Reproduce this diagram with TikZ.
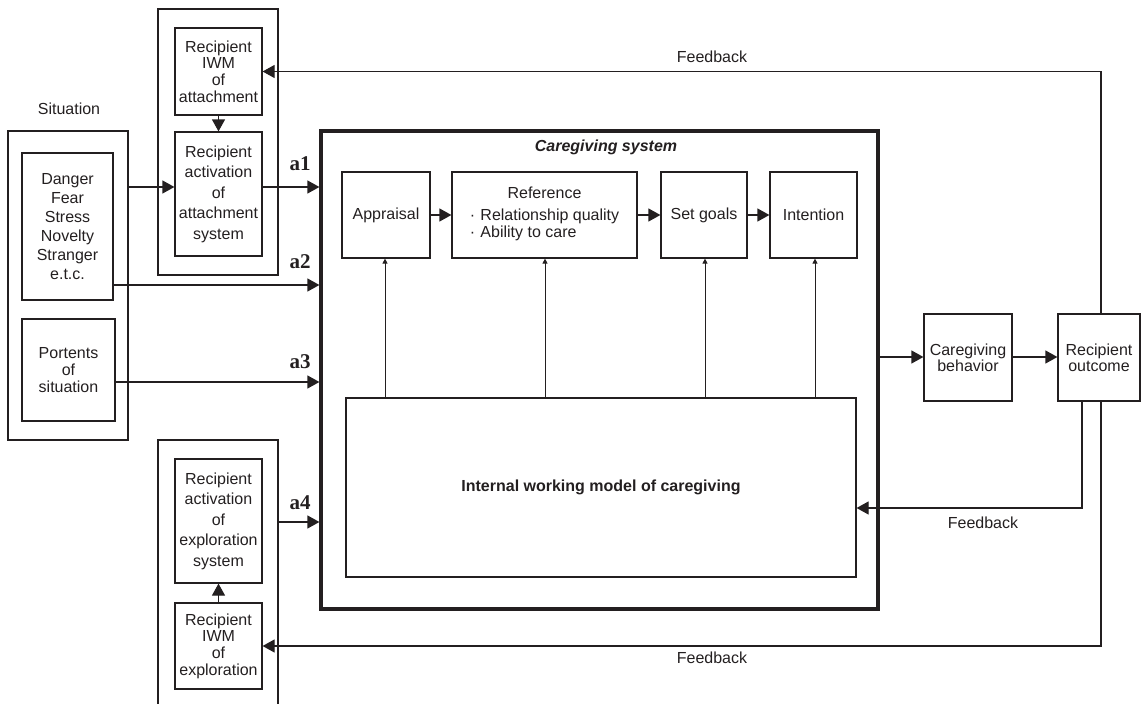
\documentclass[tikz,border=0pt]{standalone}
\usepackage{fontspec}
\setmainfont{Liberation Sans}
\newfontfamily\serifbold{Liberation Serif}
\usetikzlibrary{arrows.meta}
\definecolor{ink}{HTML}{231F20}
\newcommand\myfs[1]{\fontsize{16}{#1}\selectfont}
\begin{document}
\begin{tikzpicture}[x=1pt,y=-1pt,
  every node/.style={text=ink},
  box/.style={draw=ink, line width=1.2pt, inner sep=0pt, align=center},
  outerbox/.style={draw=ink, line width=1.2pt, inner sep=0pt},
  arr/.style={draw=ink, line width=1.2pt, -{Triangle[length=12pt,width=13pt]}},
  thinarr/.style={draw=ink, line width=0.9pt, -{Triangle[length=5pt,width=5pt]}},
  lbl/.style={font=\myfs{18}},
  alabel/.style={font=\serifbold\bfseries\fontsize{21}{21}\selectfont}]
\useasboundingbox (0,0) rectangle (1141,704);

% situation
\node[lbl] (sitlbl) at (69,109) {Situation};
\node[outerbox, minimum width=120pt, minimum height=309pt] (sit) at (68,285.5) {};
\node[box, minimum width=91pt, minimum height=147pt, font=\myfs{19}] (danger) at (67.5,226.5)
  {Danger\\Fear\\Stress\\Novelty\\Stranger\\e.t.c.};
\node[box, minimum width=93pt, minimum height=102pt, font=\myfs{16.7}] (portents) at (68.5,370)
  {Portents\\of\\situation};

% attachment
\node[outerbox, minimum width=120pt, minimum height=266pt] (attouter) at (218,142) {};
\node[box, minimum width=87pt, minimum height=87pt, font=\myfs{16.7}] (attiwm) at (218.5,71.5)
  {Recipient\\IWM\\of\\attachment};
\node[box, minimum width=87pt, minimum height=124pt, font=\myfs{20.5}] (attact) at (218.5,194)
  {Recipient\\activation\\of\\attachment\\system};

% exploration
\node[outerbox, minimum width=120pt, minimum height=272pt] (expouter) at (218,576) {};
\node[box, minimum width=87pt, minimum height=124pt, font=\myfs{20.5}] (expact) at (218.5,521)
  {Recipient\\activation\\of\\exploration\\system};
\node[box, minimum width=87pt, minimum height=86pt, font=\myfs{16.7}] (expiwm) at (218.5,646)
  {Recipient\\IWM\\of\\exploration};

% caregiving system
\node[draw=ink, line width=3.2pt, minimum width=557pt, minimum height=478pt, inner sep=0pt] (care) at (599.5,370) {};
\node[font=\bfseries\itshape\myfs{16}] (caretitle) at (606,147) {Caregiving system};
\node[box, minimum width=88pt, minimum height=86pt, font=\myfs{16}] (appraisal) at (386,215) {Appraisal};
\node[box, minimum width=185pt, minimum height=86pt, font=\myfs{17.5}] (reference) at (544.5,215)
  {Reference\\[8pt]\begin{tabular}{@{}l@{}}·\,\,Relationship quality\\ ·\,\,Ability to care\end{tabular}};
\node[box, minimum width=86pt, minimum height=86pt, font=\myfs{16}] (setgoals) at (704,215) {Set goals};
\node[box, minimum width=87pt, minimum height=86pt, font=\myfs{16}] (intention) at (813.5,215) {Intention};
\node[box, minimum width=510pt, minimum height=179pt, font=\bfseries\myfs{16}] (iwm) at (601,487.5)
  {Internal working model of caregiving};

% right side
\node[box, minimum width=88pt, minimum height=87pt, font=\myfs{15.7}] (behavior) at (968,357.5)
  {Caregiving\\behavior};
\node[box, minimum width=82pt, minimum height=87pt, font=\myfs{15.7}] (outcome) at (1099,357.5)
  {Recipient\\outcome};

% labels
\node[alabel] (a1) at (300,164) {a1};
\node[alabel] (a2) at (300,262) {a2};
\node[alabel] (a3) at (300,362) {a3};
\node[alabel] (a4) at (300,503) {a4};
\node[lbl] (fb1) at (712,57) {Feedback};
\node[lbl] (fb2) at (983,523) {Feedback};
\node[lbl] (fb3) at (712,658) {Feedback};

% helper coordinates
\coordinate (y1) at (0,187);
\coordinate (y2) at (0,285);
\coordinate (y3) at (0,382);
\coordinate (y4) at (0,522);
\coordinate (yb) at (0,357);
\coordinate (ymid) at (0,508);
\coordinate (xr) at (1101,0);
\coordinate (xm) at (1082,0);

% connectors
\draw[arr] (sit.east |- y1) -- (attact.west |- y1);
\draw[arr] (attact.east |- y1) -- (care.west |- y1);
\draw[arr] (danger.east |- y2) -- (care.west |- y2);
\draw[arr] (portents.east |- y3) -- (care.west |- y3);
\draw[arr] (expouter.east |- y4) -- (care.west |- y4);
\draw[arr] (attiwm.south) -- (attact.north);
\draw[arr] (expiwm.north) -- (expact.south);

\draw[arr] (appraisal.east) -- (reference.west |- appraisal.east);
\draw[arr] (reference.east |- setgoals.west) -- (setgoals.west);
\draw[arr] (setgoals.east) -- (intention.west);

\foreach \n/\x in {appraisal/385, reference/545, setgoals/705, intention/815}{
  \draw[thinarr] (iwm.north -| \x,0) -- (\n.south -| \x,0);
}

\draw[arr] (care.east |- yb) -- (behavior.west |- yb);
\draw[arr] (behavior.east |- yb) -- (outcome.west |- yb);

\draw[arr] (outcome.north -| xr) |- (attiwm.east);
\draw[arr] (outcome.south -| xm) |- (iwm.east |- ymid);
\draw[arr] (outcome.south -| xr) |- (expiwm.east);
\end{tikzpicture}
\end{document}
